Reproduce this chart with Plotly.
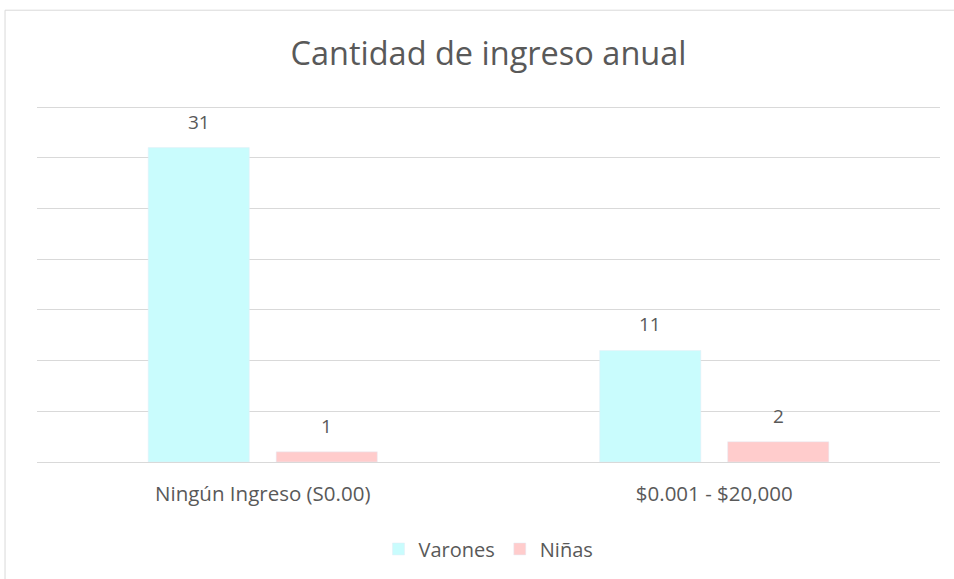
import plotly.graph_objects as go

categories = ["Ningún Ingreso (S0.00)", "$0.001 - $20,000"]
varones = [31, 11]
ninas = [1, 2]

TEXT = "#595959"
FONT = "'Open Sans', sans-serif"

fig = go.Figure()
fig.add_trace(go.Bar(x=categories, y=varones, name="Varones", marker_color="#C9FCFD"))
fig.add_trace(go.Bar(x=categories, y=ninas, name="Niñas", marker_color="#FFCCCC"))

annotations = []
for vals, shift in ((varones, -64), (ninas, 64)):
    for c, v in zip(categories, vals):
        annotations.append(dict(x=c, y=v, text=str(v), showarrow=False, xanchor="center",
                                yanchor="bottom", xshift=shift, yshift=11,
                                font=dict(size=19, color=TEXT, family=FONT)))

fig.update_layout(
    width=954, height=579,
    margin=dict(l=37, r=14, t=104, b=116),
    paper_bgcolor="white", plot_bgcolor="white",
    font=dict(family=FONT, color=TEXT, size=18),
    title=dict(text="Cantidad de ingreso anual", xref="paper", x=0.5, xanchor="center",
               y=0.907, yanchor="middle",
               font=dict(size=32.5, color=TEXT, family=FONT)),
    barmode="group", bargap=0.433, bargroupgap=0.21,
    showlegend=True,
    legend=dict(orientation="h", x=0.5, xanchor="center", y=-0.185, yanchor="top",
                font=dict(size=20, color=TEXT, family=FONT)),
    xaxis=dict(showgrid=False, showline=False, ticks="outside", ticklen=13, tickcolor="rgba(0,0,0,0)",
               tickfont=dict(size=20.5, color=TEXT, family=FONT)),
    yaxis=dict(range=[0, 35.3], dtick=5, showgrid=True, gridcolor="#D9D9D9", gridwidth=1.3,
               showticklabels=False, zeroline=True, zerolinecolor="#D9D9D9", zerolinewidth=1.3),
    annotations=annotations,
    shapes=[dict(type="rect", xref="paper", yref="paper", x0=-0.0354, x1=1.03, y0=-0.5, y1=1.262,
                 line=dict(color="#D9D9D9", width=1), fillcolor="rgba(0,0,0,0)", layer="below")],
)

fig.write_html("out.html", config={"displayModeBar": False},
               post_script="document.body.style.margin='0';")
